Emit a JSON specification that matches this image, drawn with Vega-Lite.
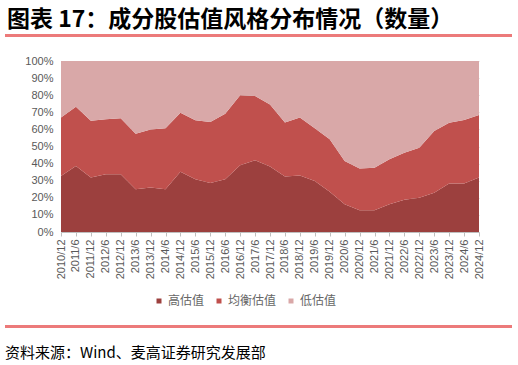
{
  "$schema": "https://vega.github.io/schema/vega-lite/v6.json",
  "background": "white",
  "padding": {"left": 5, "top": 9, "right": 6, "bottom": 0},
  "title": {
    "text": "图表 17：成分股估值风格分布情况（数量）",
    "anchor": "start",
    "font": "Noto Sans CJK SC",
    "fontSize": 23,
    "fontWeight": "bold",
    "color": "#000000",
    "offset": 2,
    "dx": 2
  },
  "spacing": 18,
  "resolve": {"scale": {"color": "independent"}, "legend": {"color": "independent"}},
  "vconcat": [
    {
      "width": 507,
      "height": 3,
      "data": {"values": [{}]},
      "mark": {"type": "rect", "color": "#EC7A7A"},
      "encoding": {}
    },
    {
      "spacing": 18,
      "hconcat": [
        {
          "width": 1,
          "height": 171,
          "data": {"values": []},
          "mark": "point",
          "encoding": {},
          "view": {"stroke": null}
        },
        {
          "width": 418,
          "height": 171,
          "data": {
            "values": [
              {"日期": "2010/12", "高估值": 32.7, "均衡估值": 34.3, "低估值": 33.0},
              {"日期": "2011/6", "高估值": 38.6, "均衡估值": 34.7, "低估值": 26.7},
              {"日期": "2011/12", "高估值": 31.8, "均衡估值": 33.2, "低估值": 35.0},
              {"日期": "2012/6", "高估值": 33.7, "均衡估值": 32.3, "低估值": 34.0},
              {"日期": "2012/12", "高估值": 33.7, "均衡估值": 32.8, "低估值": 33.5},
              {"日期": "2013/6", "高估值": 25.0, "均衡估值": 32.5, "低估值": 42.5},
              {"日期": "2013/12", "高估值": 26.0, "均衡估值": 34.0, "低估值": 40.0},
              {"日期": "2014/6", "高估值": 25.0, "均衡估值": 35.6, "低估值": 39.4},
              {"日期": "2014/12", "高估值": 35.3, "均衡估值": 34.5, "低估值": 30.2},
              {"日期": "2015/6", "高估值": 30.8, "均衡估值": 34.5, "低估值": 34.7},
              {"日期": "2015/12", "高估值": 28.7, "均衡估值": 35.6, "低估值": 35.7},
              {"日期": "2016/6", "高估值": 30.8, "均衡估值": 38.4, "低估值": 30.8},
              {"日期": "2016/12", "高估值": 39.0, "均衡估值": 41.0, "低估值": 20.0},
              {"日期": "2017/6", "高估值": 42.0, "均衡估值": 37.5, "低估值": 20.5},
              {"日期": "2017/12", "高估值": 38.3, "均衡估值": 36.2, "低估值": 25.5},
              {"日期": "2018/6", "高估值": 32.4, "均衡估值": 31.7, "低估值": 35.9},
              {"日期": "2018/12", "高估值": 33.1, "均衡估值": 33.8, "低估值": 33.1},
              {"日期": "2019/6", "高估值": 29.8, "均衡估值": 30.8, "低估值": 39.4},
              {"日期": "2019/12", "高估值": 23.6, "均衡估值": 30.6, "低估值": 45.8},
              {"日期": "2020/6", "高估值": 16.2, "均衡估值": 25.3, "低估值": 58.5},
              {"日期": "2020/12", "高估值": 12.7, "均衡估值": 24.5, "低估值": 62.8},
              {"日期": "2021/6", "高估值": 12.7, "均衡估值": 24.9, "低估值": 62.4},
              {"日期": "2021/12", "高估值": 16.2, "均衡估值": 26.3, "低估值": 57.5},
              {"日期": "2022/6", "高估值": 18.9, "均衡估值": 27.5, "低估值": 53.6},
              {"日期": "2022/12", "高估值": 20.0, "均衡估值": 29.3, "低估值": 50.7},
              {"日期": "2023/6", "高估值": 23.0, "均衡估值": 36.0, "低估值": 41.0},
              {"日期": "2023/12", "高估值": 28.3, "均衡估值": 35.6, "低估值": 36.1},
              {"日期": "2024/6", "高估值": 28.3, "均衡估值": 37.2, "低估值": 34.5},
              {"日期": "2024/12", "高估值": 31.8, "均衡估值": 36.6, "低估值": 31.6}
            ]
          },
          "transform": [
            {"fold": ["高估值", "均衡估值", "低估值"], "as": ["类型", "占比"]},
            {"calculate": "indexof(['高估值','均衡估值','低估值'], datum['类型'])", "as": "序"}
          ],
          "mark": {"type": "area", "opacity": 1},
          "encoding": {
            "x": {
              "field": "日期",
              "type": "ordinal",
              "sort": null,
              "scale": {"padding": 0},
              "axis": {
                "title": null,
                "labelAngle": -90,
                "labelFont": "Liberation Sans",
                "labelFontSize": 11,
                "labelColor": "#595959",
                "labelPadding": 3,
                "tickSize": 4,
                "tickColor": "#bfbfbf",
                "domainColor": "#bfbfbf",
                "grid": false
              }
            },
            "y": {
              "field": "占比",
              "type": "quantitative",
              "stack": "normalize",
              "scale": {"domain": [0, 1]},
              "axis": {
                "title": null,
                "values": [0, 0.1, 0.2, 0.3, 0.4, 0.5, 0.6, 0.7, 0.8, 0.9, 1],
                "format": ".0%",
                "ticks": false,
                "domain": false,
                "labelPadding": 8,
                "labelFont": "Liberation Sans",
                "labelFontSize": 11,
                "labelColor": "#595959",
                "grid": true,
                "gridColor": "#d9d9d9"
              }
            },
            "color": {
              "field": "类型",
              "type": "nominal",
              "scale": {
                "domain": ["高估值", "均衡估值", "低估值"],
                "range": ["#9C403E", "#C0504D", "#D9A8A8"]
              },
              "legend": {
                "title": null,
                "orient": "bottom",
                "direction": "horizontal",
                "symbolType": "square",
                "symbolSize": 25,
                "symbolStrokeWidth": 0,
                "labelFont": "Noto Sans CJK SC",
                "labelFontSize": 12,
                "labelColor": "#666666",
                "columnPadding": 8,
                "labelOffset": 3,
                "offset": 16
              }
            },
            "order": {"field": "序", "type": "quantitative"}
          }
        }
      ]
    },
    {
      "width": 507,
      "height": 3,
      "data": {"values": [{"k": 1}]},
      "mark": {"type": "rect", "color": "#EC7A7A"},
      "encoding": {}
    },
    {
      "width": 507,
      "height": 1,
      "data": {"values": []},
      "mark": "point",
      "encoding": {},
      "title": {
        "text": "资料来源：Wind、麦高证券研究发展部",
        "orient": "top",
        "anchor": "start",
        "font": "Noto Sans CJK SC",
        "fontSize": 15,
        "fontWeight": "normal",
        "color": "#000000",
        "offset": 0
      }
    }
  ],
  "config": {
    "view": {"stroke": null},
    "legend": {"layout": {"bottom": {"anchor": "middle"}}}
  }
}
